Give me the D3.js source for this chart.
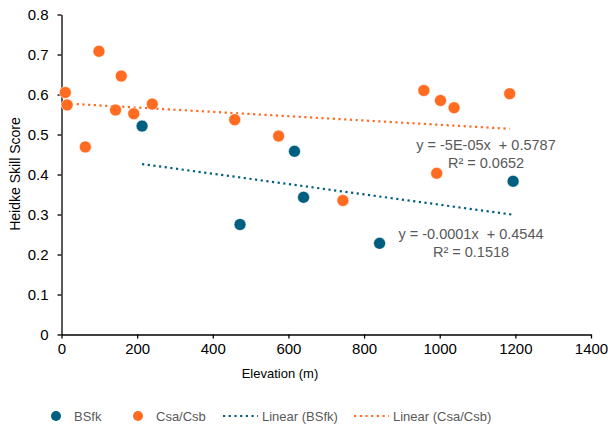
<!DOCTYPE html>
<html>
<head>
<meta charset="utf-8">
<script src="https://cdn.jsdelivr.net/npm/d3@7"></script>
<style>
    body { margin: 0; background: #fff; }
    #chart { width: 608px; height: 425px; }
    text { font-family: "Liberation Sans", Arial, sans-serif; }
</style>
</head>
<body>
<div id="chart"></div>
<script>
// Heidke Skill Score vs elevation, two climate groups
const bsfkElev = [213, 472, 616, 640, 841, 1194];
const bsfkHss = [0.521, 0.275, 0.458, 0.343, 0.228, 0.383];

const csaElev = [10, 15, 63, 99, 143, 158, 191, 240, 458, 574, 744, 958, 992, 1002, 1038, 1185];
const csaHss = [0.605, 0.574, 0.469, 0.708, 0.561, 0.646, 0.552, 0.576, 0.537, 0.496, 0.335, 0.610, 0.403, 0.585, 0.567, 0.602];

const xTicks = [0, 200, 400, 600, 800, 1000, 1200, 1400];
const yTicks = [0, 0.1, 0.2, 0.3, 0.4, 0.5, 0.6, 0.7, 0.8];

const bsfkEq = ['y = -0.0001x  + 0.4544', 'R² = 0.1518'];
const csaEq = ['y = -5E-05x  + 0.5787', 'R² = 0.0652'];

const BLUE = '#005f80';
const ORANGE = '#ff6b21';
const GREY = '#595959';

// least squares fit, used for the dotted trendlines
function linearFit(xs, ys) {
    const mx = d3.mean(xs), my = d3.mean(ys);
    let sxy = 0, sxx = 0;
    xs.forEach((x, i) => { sxy += (x - mx) * (ys[i] - my); sxx += (x - mx) * (x - mx); });
    const slope = sxy / sxx;
    return { slope, intercept: my - slope * mx };
}

const width = 608, height = 425;
const svg = d3.select('#chart')
    .append('svg')
    .attr('width', width)
    .attr('height', height);

const x = d3.scaleLinear().domain([0, 1400]).range([61.5, 591]);
const y = d3.scaleLinear().domain([0, 0.8]).range([334.5, 14.5]);

// Axes
const xAxis = svg.append('g')
    .attr('transform', `translate(0,${y(0)})`)
    .call(d3.axisBottom(x).tickValues(xTicks).tickSize(4).tickSizeOuter(0).tickPadding(5).tickFormat(d3.format('d')));
const yAxis = svg.append('g')
    .attr('transform', `translate(${x(0)},0)`)
    .call(d3.axisLeft(y).tickValues(yTicks).tickSize(4).tickSizeOuter(0).tickPadding(9).tickFormat(d => d === 0 ? '0' : d3.format('.1f')(d)));

[xAxis, yAxis].forEach(g => {
    g.select('.domain').attr('stroke', '#000').attr('stroke-width', 1.3);
    g.selectAll('.tick line').attr('stroke', '#000').attr('stroke-width', 1.3);
    g.selectAll('.tick text')
        .attr('fill', '#000')
        .style('font-size', '15px')
        .style('font-family', '"Liberation Sans", Arial, sans-serif');
});

// Axis titles
svg.append('text')
    .attr('x', 280)
    .attr('y', 378)
    .attr('text-anchor', 'middle')
    .style('font-size', '13px')
    .attr('fill', '#000')
    .text('Elevation (m)');

svg.append('text')
    .attr('transform', 'translate(20,174) rotate(-90)')
    .attr('text-anchor', 'middle')
    .style('font-size', '14px')
    .attr('fill', '#000')
    .text('Heidke Skill Score');

// Trendlines
const trends = [
    { xs: bsfkElev, ys: bsfkHss, color: BLUE },
    { xs: csaElev, ys: csaHss, color: ORANGE }
];
trends.forEach(t => {
    const fit = linearFit(t.xs, t.ys);
    const x0 = d3.min(t.xs), x1 = d3.max(t.xs);
    svg.append('line')
        .attr('x1', x(x0)).attr('y1', y(fit.intercept + fit.slope * x0))
        .attr('x2', x(x1)).attr('y2', y(fit.intercept + fit.slope * x1))
        .attr('stroke', t.color)
        .attr('stroke-width', 2.2)
        .attr('stroke-dasharray', '2.2 3.5');
});

// Points
const bsfkPts = bsfkElev.map((e, i) => ({ e, v: bsfkHss[i] }));
const csaPts = csaElev.map((e, i) => ({ e, v: csaHss[i] }));

svg.selectAll('.pt-csa')
    .data(csaPts)
    .enter()
    .append('circle')
    .attr('class', 'pt-csa')
    .attr('cx', d => x(d.e))
    .attr('cy', d => y(d.v))
    .attr('r', 6)
    .attr('fill', ORANGE)
    .attr('stroke', '#fff')
    .attr('stroke-width', 0.6);

svg.selectAll('.pt-bsfk')
    .data(bsfkPts)
    .enter()
    .append('circle')
    .attr('class', 'pt-bsfk')
    .attr('cx', d => x(d.e))
    .attr('cy', d => y(d.v))
    .attr('r', 6)
    .attr('fill', BLUE)
    .attr('stroke', '#fff')
    .attr('stroke-width', 0.6);

// Equation labels
function eqLabel(lines, cx, cy) {
    svg.append('text')
        .attr('text-anchor', 'middle')
        .attr('fill', GREY)
        .style('font-size', '14.5px')
        .style('white-space', 'pre')
        .selectAll('tspan')
        .data(lines)
        .enter()
        .append('tspan')
        .attr('x', cx)
        .attr('y', (d, i) => cy + i * 17.5)
        .text(d => d);
}
eqLabel(csaEq, 486, 150);
eqLabel(bsfkEq, 471, 239);

// Legend
const legend = svg.append('g').attr('transform', 'translate(0,416)');
const legendItems = [
    { label: 'BSfk', color: BLUE, type: 'dot', x: 56 },
    { label: 'Csa/Csb', color: ORANGE, type: 'dot', x: 138 },
    { label: 'Linear (BSfk)', color: BLUE, type: 'line', x: 223 },
    { label: 'Linear (Csa/Csb)', color: ORANGE, type: 'line', x: 354 }
];
legendItems.forEach(d => {
    if (d.type === 'dot') {
        legend.append('circle')
            .attr('cx', d.x).attr('cy', 0).attr('r', 5)
            .attr('fill', d.color);
        legend.append('text')
            .attr('x', d.x + 18).attr('y', 4.5)
            .style('font-size', '13px')
            .attr('fill', GREY)
            .text(d.label);
    } else {
        legend.append('line')
            .attr('x1', d.x).attr('x2', d.x + 35)
            .attr('y1', 0).attr('y2', 0)
            .attr('stroke', d.color)
            .attr('stroke-width', 2.2)
            .attr('stroke-dasharray', '2.2 3.5');
        legend.append('text')
            .attr('x', d.x + 39).attr('y', 4.5)
            .style('font-size', '13px')
            .attr('fill', GREY)
            .text(d.label);
    }
});
</script>
</body>
</html>
